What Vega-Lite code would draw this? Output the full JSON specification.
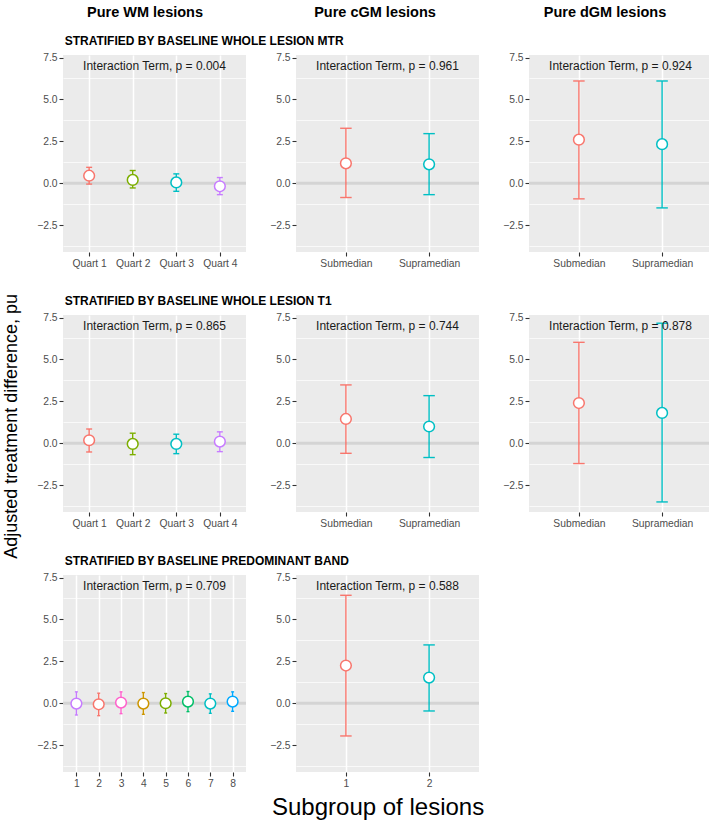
{
  "$schema": "https://vega.github.io/schema/vega-lite/v6.json",
  "background": "white",
  "padding": {"left": 2, "right": 0, "top": 5, "bottom": 5},
  "config": {
    "font": "Liberation Sans",
    "view": {"fill": "#EBEBEB", "stroke": null},
    "axis": {"domain": false, "grid": true, "gridColor": "#FFFFFF", "gridWidth": 1.5, "tickColor": "#333333", "tickSize": 4, "tickWidth": 1.1, "labelColor": "#4D4D4D", "labelFontSize": 10.3, "labelFont": "Liberation Sans", "labelPadding": 2, "labelOverlap": false},
    "axisX": {"labelAngle": 0},
    "title": {"font": "Liberation Sans", "color": "#000000"}
  },
  "datasets": {
    "est": [
      {"strat": "MTR", "lesion": "WM", "grp": "Quart 1", "est": 0.45, "lo": -0.05, "hi": 0.95},
      {"strat": "MTR", "lesion": "WM", "grp": "Quart 2", "est": 0.2, "lo": -0.28, "hi": 0.76},
      {"strat": "MTR", "lesion": "WM", "grp": "Quart 3", "est": 0.05, "lo": -0.48, "hi": 0.56},
      {"strat": "MTR", "lesion": "WM", "grp": "Quart 4", "est": -0.18, "lo": -0.68, "hi": 0.34},
      {"strat": "MTR", "lesion": "cGM", "grp": "Submedian", "est": 1.19, "lo": -0.85, "hi": 3.28},
      {"strat": "MTR", "lesion": "cGM", "grp": "Supramedian", "est": 1.13, "lo": -0.68, "hi": 2.96},
      {"strat": "MTR", "lesion": "dGM", "grp": "Submedian", "est": 2.6, "lo": -0.93, "hi": 6.1},
      {"strat": "MTR", "lesion": "dGM", "grp": "Supramedian", "est": 2.33, "lo": -1.47, "hi": 6.1},
      {"strat": "T1", "lesion": "WM", "grp": "Quart 1", "est": 0.18, "lo": -0.52, "hi": 0.85},
      {"strat": "T1", "lesion": "WM", "grp": "Quart 2", "est": -0.04, "lo": -0.68, "hi": 0.6},
      {"strat": "T1", "lesion": "WM", "grp": "Quart 3", "est": -0.04, "lo": -0.62, "hi": 0.54},
      {"strat": "T1", "lesion": "WM", "grp": "Quart 4", "est": 0.1, "lo": -0.5, "hi": 0.68},
      {"strat": "T1", "lesion": "cGM", "grp": "Submedian", "est": 1.45, "lo": -0.6, "hi": 3.48},
      {"strat": "T1", "lesion": "cGM", "grp": "Supramedian", "est": 1.0, "lo": -0.85, "hi": 2.84},
      {"strat": "T1", "lesion": "dGM", "grp": "Submedian", "est": 2.4, "lo": -1.21, "hi": 6.02},
      {"strat": "T1", "lesion": "dGM", "grp": "Supramedian", "est": 1.81, "lo": -3.5, "hi": 7.16},
      {"strat": "Band", "lesion": "WM", "grp": "1", "est": -0.02, "lo": -0.7, "hi": 0.68},
      {"strat": "Band", "lesion": "WM", "grp": "2", "est": -0.06, "lo": -0.74, "hi": 0.6},
      {"strat": "Band", "lesion": "WM", "grp": "3", "est": 0.04, "lo": -0.62, "hi": 0.68},
      {"strat": "Band", "lesion": "WM", "grp": "4", "est": -0.02, "lo": -0.66, "hi": 0.64},
      {"strat": "Band", "lesion": "WM", "grp": "5", "est": 0.0, "lo": -0.58, "hi": 0.58},
      {"strat": "Band", "lesion": "WM", "grp": "6", "est": 0.1, "lo": -0.5, "hi": 0.7},
      {"strat": "Band", "lesion": "WM", "grp": "7", "est": -0.02, "lo": -0.6, "hi": 0.56},
      {"strat": "Band", "lesion": "WM", "grp": "8", "est": 0.1, "lo": -0.48, "hi": 0.68},
      {"strat": "Band", "lesion": "cGM", "grp": "1", "est": 2.25, "lo": -1.95, "hi": 6.44},
      {"strat": "Band", "lesion": "cGM", "grp": "2", "est": 1.53, "lo": -0.46, "hi": 3.48}
    ],
    "pvals": [
      {"strat": "MTR", "lesion": "WM", "label": "Interaction Term, p = 0.004"},
      {"strat": "MTR", "lesion": "cGM", "label": "Interaction Term, p = 0.961"},
      {"strat": "MTR", "lesion": "dGM", "label": "Interaction Term, p = 0.924"},
      {"strat": "T1", "lesion": "WM", "label": "Interaction Term, p = 0.865"},
      {"strat": "T1", "lesion": "cGM", "label": "Interaction Term, p = 0.744"},
      {"strat": "T1", "lesion": "dGM", "label": "Interaction Term, p = 0.878"},
      {"strat": "Band", "lesion": "WM", "label": "Interaction Term, p = 0.709"},
      {"strat": "Band", "lesion": "cGM", "label": "Interaction Term, p = 0.588"}
    ]
  },
  "data": {"name": "est"},
  "title": {"text": "Subgroup of lesions", "orient": "bottom", "anchor": "middle", "fontSize": 24, "fontWeight": "normal", "offset": 8, "dx": 20},
  "resolve": {"scale": {"color": "independent", "x": "independent", "y": "independent"}},
  "spacing": 14,
  "vconcat": [
    {
      "width": 643, "height": 14,
      "view": {"fill": "transparent", "stroke": null},
      "data": {"values": [{"col": "Pure WM lesions"}, {"col": "Pure cGM lesions"}, {"col": "Pure dGM lesions"}]},
      "mark": {"type": "text", "fontSize": 14.5, "fontWeight": "bold", "color": "#000000"},
      "encoding": {
        "x": {"field": "col", "type": "nominal", "sort": null, "scale": {"type": "point", "padding": 0.398, "align": 0.448}, "axis": null},
        "text": {"field": "col"}
      }
    },
    {
      "title": {"text": "Adjusted treatment difference, pu", "orient": "left", "anchor": "middle", "fontSize": 18, "fontWeight": "normal", "offset": 16, "dx": -15},
      "resolve": {"scale": {"color": "independent", "x": "independent", "y": "independent"}},
      "spacing": 25,
      "vconcat": [
        {
          "title": {"text": "STRATIFIED BY BASELINE WHOLE LESION MTR", "anchor": "start", "fontSize": 12, "fontWeight": "bold", "offset": 5, "dx": 28},
          "resolve": {"scale": {"color": "independent", "x": "independent", "y": "independent"}},
          "spacing": 21,
          "hconcat": [
            {"width": 183, "height": 197, "resolve": {"axis": {"y": "independent"}}, "layer": [
              {"data": {"values": [{}]}, "mark": {"type": "rule", "color": "#D4D4D4", "strokeWidth": 3}, "encoding": {"y": {"datum": 0, "type": "quantitative", "title": null, "scale": {"domain": [-4.1, 7.65], "nice": false, "zero": false}, "axis": {"orient": "left", "values": [-3.75, -1.25, 1.25, 3.75, 6.25], "labels": false, "ticks": false, "gridWidth": 0.7}}}},
              {"transform": [{"filter": "datum.strat === 'MTR' && datum.lesion === 'WM'"}], "mark": {"type": "rule", "strokeWidth": 1.4}, "encoding": {"x": {"field": "grp", "type": "ordinal", "sort": ["Quart 1", "Quart 2", "Quart 3", "Quart 4"], "title": null, "scale": {"type": "point", "padding": 0.6}, "axis": {"grid": true, "labelAngle": 0}}, "y": {"field": "lo", "type": "quantitative", "title": null, "scale": {"domain": [-4.1, 7.65], "nice": false, "zero": false}, "axis": {"orient": "left", "values": [-2.5, 0, 2.5, 5, 7.5], "format": ".1f"}}, "y2": {"field": "hi"}, "color": {"field": "grp", "type": "nominal", "scale": {"domain": ["Quart 1", "Quart 2", "Quart 3", "Quart 4"], "range": ["#F8766D", "#7CAE00", "#00BFC4", "#C77CFF"]}, "legend": null}}},
              {"transform": [{"filter": "datum.strat === 'MTR' && datum.lesion === 'WM'"}], "mark": {"type": "tick", "orient": "horizontal", "size": 6, "thickness": 1.4, "opacity": 1}, "encoding": {"x": {"field": "grp", "type": "ordinal", "sort": ["Quart 1", "Quart 2", "Quart 3", "Quart 4"], "title": null}, "y": {"field": "lo", "type": "quantitative", "axis": null}, "color": {"field": "grp", "type": "nominal", "legend": null}}},
              {"transform": [{"filter": "datum.strat === 'MTR' && datum.lesion === 'WM'"}], "mark": {"type": "tick", "orient": "horizontal", "size": 6, "thickness": 1.4, "opacity": 1}, "encoding": {"x": {"field": "grp", "type": "ordinal", "sort": ["Quart 1", "Quart 2", "Quart 3", "Quart 4"], "title": null}, "y": {"field": "hi", "type": "quantitative", "axis": null}, "color": {"field": "grp", "type": "nominal", "legend": null}}},
              {"transform": [{"filter": "datum.strat === 'MTR' && datum.lesion === 'WM'"}], "mark": {"type": "point", "shape": "circle", "filled": false, "fill": "white", "size": 115, "strokeWidth": 1.5, "opacity": 1}, "encoding": {"x": {"field": "grp", "type": "ordinal", "sort": ["Quart 1", "Quart 2", "Quart 3", "Quart 4"], "title": null}, "y": {"field": "est", "type": "quantitative", "axis": null}, "color": {"field": "grp", "type": "nominal", "legend": null}}},
              {"data": {"name": "pvals"}, "transform": [{"filter": "datum.strat === 'MTR' && datum.lesion === 'WM'"}], "mark": {"type": "text", "fontSize": 12, "color": "#1A1A1A"}, "encoding": {"y": {"datum": 7, "type": "quantitative", "axis": null}, "text": {"field": "label"}}}
            ]},
            {"width": 183, "height": 197, "resolve": {"axis": {"y": "independent"}}, "layer": [
              {"data": {"values": [{}]}, "mark": {"type": "rule", "color": "#D4D4D4", "strokeWidth": 3}, "encoding": {"y": {"datum": 0, "type": "quantitative", "title": null, "scale": {"domain": [-4.1, 7.65], "nice": false, "zero": false}, "axis": {"orient": "left", "values": [-3.75, -1.25, 1.25, 3.75, 6.25], "labels": false, "ticks": false, "gridWidth": 0.7}}}},
              {"transform": [{"filter": "datum.strat === 'MTR' && datum.lesion === 'cGM'"}], "mark": {"type": "rule", "strokeWidth": 1.4}, "encoding": {"x": {"field": "grp", "type": "ordinal", "sort": ["Submedian", "Supramedian"], "title": null, "scale": {"type": "point", "padding": 0.6}, "axis": {"grid": true, "labelAngle": 0}}, "y": {"field": "lo", "type": "quantitative", "title": null, "scale": {"domain": [-4.1, 7.65], "nice": false, "zero": false}, "axis": {"orient": "left", "values": [-2.5, 0, 2.5, 5, 7.5], "format": ".1f"}}, "y2": {"field": "hi"}, "color": {"field": "grp", "type": "nominal", "scale": {"domain": ["Submedian", "Supramedian"], "range": ["#F8766D", "#00BFC4"]}, "legend": null}}},
              {"transform": [{"filter": "datum.strat === 'MTR' && datum.lesion === 'cGM'"}], "mark": {"type": "tick", "orient": "horizontal", "size": 11.5, "thickness": 1.4, "opacity": 1}, "encoding": {"x": {"field": "grp", "type": "ordinal", "sort": ["Submedian", "Supramedian"], "title": null}, "y": {"field": "lo", "type": "quantitative", "axis": null}, "color": {"field": "grp", "type": "nominal", "legend": null}}},
              {"transform": [{"filter": "datum.strat === 'MTR' && datum.lesion === 'cGM'"}], "mark": {"type": "tick", "orient": "horizontal", "size": 11.5, "thickness": 1.4, "opacity": 1}, "encoding": {"x": {"field": "grp", "type": "ordinal", "sort": ["Submedian", "Supramedian"], "title": null}, "y": {"field": "hi", "type": "quantitative", "axis": null}, "color": {"field": "grp", "type": "nominal", "legend": null}}},
              {"transform": [{"filter": "datum.strat === 'MTR' && datum.lesion === 'cGM'"}], "mark": {"type": "point", "shape": "circle", "filled": false, "fill": "white", "size": 115, "strokeWidth": 1.5, "opacity": 1}, "encoding": {"x": {"field": "grp", "type": "ordinal", "sort": ["Submedian", "Supramedian"], "title": null}, "y": {"field": "est", "type": "quantitative", "axis": null}, "color": {"field": "grp", "type": "nominal", "legend": null}}},
              {"data": {"name": "pvals"}, "transform": [{"filter": "datum.strat === 'MTR' && datum.lesion === 'cGM'"}], "mark": {"type": "text", "fontSize": 12, "color": "#1A1A1A"}, "encoding": {"y": {"datum": 7, "type": "quantitative", "axis": null}, "text": {"field": "label"}}}
            ]},
            {"width": 183, "height": 197, "resolve": {"axis": {"y": "independent"}}, "layer": [
              {"data": {"values": [{}]}, "mark": {"type": "rule", "color": "#D4D4D4", "strokeWidth": 3}, "encoding": {"y": {"datum": 0, "type": "quantitative", "title": null, "scale": {"domain": [-4.1, 7.65], "nice": false, "zero": false}, "axis": {"orient": "left", "values": [-3.75, -1.25, 1.25, 3.75, 6.25], "labels": false, "ticks": false, "gridWidth": 0.7}}}},
              {"transform": [{"filter": "datum.strat === 'MTR' && datum.lesion === 'dGM'"}], "mark": {"type": "rule", "strokeWidth": 1.4}, "encoding": {"x": {"field": "grp", "type": "ordinal", "sort": ["Submedian", "Supramedian"], "title": null, "scale": {"type": "point", "padding": 0.6}, "axis": {"grid": true, "labelAngle": 0}}, "y": {"field": "lo", "type": "quantitative", "title": null, "scale": {"domain": [-4.1, 7.65], "nice": false, "zero": false}, "axis": {"orient": "left", "values": [-2.5, 0, 2.5, 5, 7.5], "format": ".1f"}}, "y2": {"field": "hi"}, "color": {"field": "grp", "type": "nominal", "scale": {"domain": ["Submedian", "Supramedian"], "range": ["#F8766D", "#00BFC4"]}, "legend": null}}},
              {"transform": [{"filter": "datum.strat === 'MTR' && datum.lesion === 'dGM'"}], "mark": {"type": "tick", "orient": "horizontal", "size": 11.5, "thickness": 1.4, "opacity": 1}, "encoding": {"x": {"field": "grp", "type": "ordinal", "sort": ["Submedian", "Supramedian"], "title": null}, "y": {"field": "lo", "type": "quantitative", "axis": null}, "color": {"field": "grp", "type": "nominal", "legend": null}}},
              {"transform": [{"filter": "datum.strat === 'MTR' && datum.lesion === 'dGM'"}], "mark": {"type": "tick", "orient": "horizontal", "size": 11.5, "thickness": 1.4, "opacity": 1}, "encoding": {"x": {"field": "grp", "type": "ordinal", "sort": ["Submedian", "Supramedian"], "title": null}, "y": {"field": "hi", "type": "quantitative", "axis": null}, "color": {"field": "grp", "type": "nominal", "legend": null}}},
              {"transform": [{"filter": "datum.strat === 'MTR' && datum.lesion === 'dGM'"}], "mark": {"type": "point", "shape": "circle", "filled": false, "fill": "white", "size": 115, "strokeWidth": 1.5, "opacity": 1}, "encoding": {"x": {"field": "grp", "type": "ordinal", "sort": ["Submedian", "Supramedian"], "title": null}, "y": {"field": "est", "type": "quantitative", "axis": null}, "color": {"field": "grp", "type": "nominal", "legend": null}}},
              {"data": {"name": "pvals"}, "transform": [{"filter": "datum.strat === 'MTR' && datum.lesion === 'dGM'"}], "mark": {"type": "text", "fontSize": 12, "color": "#1A1A1A"}, "encoding": {"y": {"datum": 7, "type": "quantitative", "axis": null}, "text": {"field": "label"}}}
            ]}
          ]
        },
        {
          "title": {"text": "STRATIFIED BY BASELINE WHOLE LESION T1", "anchor": "start", "fontSize": 12, "fontWeight": "bold", "offset": 5, "dx": 28},
          "resolve": {"scale": {"color": "independent", "x": "independent", "y": "independent"}},
          "spacing": 21,
          "hconcat": [
            {"width": 183, "height": 197, "resolve": {"axis": {"y": "independent"}}, "layer": [
              {"data": {"values": [{}]}, "mark": {"type": "rule", "color": "#D4D4D4", "strokeWidth": 3}, "encoding": {"y": {"datum": 0, "type": "quantitative", "title": null, "scale": {"domain": [-4.1, 7.65], "nice": false, "zero": false}, "axis": {"orient": "left", "values": [-3.75, -1.25, 1.25, 3.75, 6.25], "labels": false, "ticks": false, "gridWidth": 0.7}}}},
              {"transform": [{"filter": "datum.strat === 'T1' && datum.lesion === 'WM'"}], "mark": {"type": "rule", "strokeWidth": 1.4}, "encoding": {"x": {"field": "grp", "type": "ordinal", "sort": ["Quart 1", "Quart 2", "Quart 3", "Quart 4"], "title": null, "scale": {"type": "point", "padding": 0.6}, "axis": {"grid": true, "labelAngle": 0}}, "y": {"field": "lo", "type": "quantitative", "title": null, "scale": {"domain": [-4.1, 7.65], "nice": false, "zero": false}, "axis": {"orient": "left", "values": [-2.5, 0, 2.5, 5, 7.5], "format": ".1f"}}, "y2": {"field": "hi"}, "color": {"field": "grp", "type": "nominal", "scale": {"domain": ["Quart 1", "Quart 2", "Quart 3", "Quart 4"], "range": ["#F8766D", "#7CAE00", "#00BFC4", "#C77CFF"]}, "legend": null}}},
              {"transform": [{"filter": "datum.strat === 'T1' && datum.lesion === 'WM'"}], "mark": {"type": "tick", "orient": "horizontal", "size": 6, "thickness": 1.4, "opacity": 1}, "encoding": {"x": {"field": "grp", "type": "ordinal", "sort": ["Quart 1", "Quart 2", "Quart 3", "Quart 4"], "title": null}, "y": {"field": "lo", "type": "quantitative", "axis": null}, "color": {"field": "grp", "type": "nominal", "legend": null}}},
              {"transform": [{"filter": "datum.strat === 'T1' && datum.lesion === 'WM'"}], "mark": {"type": "tick", "orient": "horizontal", "size": 6, "thickness": 1.4, "opacity": 1}, "encoding": {"x": {"field": "grp", "type": "ordinal", "sort": ["Quart 1", "Quart 2", "Quart 3", "Quart 4"], "title": null}, "y": {"field": "hi", "type": "quantitative", "axis": null}, "color": {"field": "grp", "type": "nominal", "legend": null}}},
              {"transform": [{"filter": "datum.strat === 'T1' && datum.lesion === 'WM'"}], "mark": {"type": "point", "shape": "circle", "filled": false, "fill": "white", "size": 115, "strokeWidth": 1.5, "opacity": 1}, "encoding": {"x": {"field": "grp", "type": "ordinal", "sort": ["Quart 1", "Quart 2", "Quart 3", "Quart 4"], "title": null}, "y": {"field": "est", "type": "quantitative", "axis": null}, "color": {"field": "grp", "type": "nominal", "legend": null}}},
              {"data": {"name": "pvals"}, "transform": [{"filter": "datum.strat === 'T1' && datum.lesion === 'WM'"}], "mark": {"type": "text", "fontSize": 12, "color": "#1A1A1A"}, "encoding": {"y": {"datum": 7, "type": "quantitative", "axis": null}, "text": {"field": "label"}}}
            ]},
            {"width": 183, "height": 197, "resolve": {"axis": {"y": "independent"}}, "layer": [
              {"data": {"values": [{}]}, "mark": {"type": "rule", "color": "#D4D4D4", "strokeWidth": 3}, "encoding": {"y": {"datum": 0, "type": "quantitative", "title": null, "scale": {"domain": [-4.1, 7.65], "nice": false, "zero": false}, "axis": {"orient": "left", "values": [-3.75, -1.25, 1.25, 3.75, 6.25], "labels": false, "ticks": false, "gridWidth": 0.7}}}},
              {"transform": [{"filter": "datum.strat === 'T1' && datum.lesion === 'cGM'"}], "mark": {"type": "rule", "strokeWidth": 1.4}, "encoding": {"x": {"field": "grp", "type": "ordinal", "sort": ["Submedian", "Supramedian"], "title": null, "scale": {"type": "point", "padding": 0.6}, "axis": {"grid": true, "labelAngle": 0}}, "y": {"field": "lo", "type": "quantitative", "title": null, "scale": {"domain": [-4.1, 7.65], "nice": false, "zero": false}, "axis": {"orient": "left", "values": [-2.5, 0, 2.5, 5, 7.5], "format": ".1f"}}, "y2": {"field": "hi"}, "color": {"field": "grp", "type": "nominal", "scale": {"domain": ["Submedian", "Supramedian"], "range": ["#F8766D", "#00BFC4"]}, "legend": null}}},
              {"transform": [{"filter": "datum.strat === 'T1' && datum.lesion === 'cGM'"}], "mark": {"type": "tick", "orient": "horizontal", "size": 11.5, "thickness": 1.4, "opacity": 1}, "encoding": {"x": {"field": "grp", "type": "ordinal", "sort": ["Submedian", "Supramedian"], "title": null}, "y": {"field": "lo", "type": "quantitative", "axis": null}, "color": {"field": "grp", "type": "nominal", "legend": null}}},
              {"transform": [{"filter": "datum.strat === 'T1' && datum.lesion === 'cGM'"}], "mark": {"type": "tick", "orient": "horizontal", "size": 11.5, "thickness": 1.4, "opacity": 1}, "encoding": {"x": {"field": "grp", "type": "ordinal", "sort": ["Submedian", "Supramedian"], "title": null}, "y": {"field": "hi", "type": "quantitative", "axis": null}, "color": {"field": "grp", "type": "nominal", "legend": null}}},
              {"transform": [{"filter": "datum.strat === 'T1' && datum.lesion === 'cGM'"}], "mark": {"type": "point", "shape": "circle", "filled": false, "fill": "white", "size": 115, "strokeWidth": 1.5, "opacity": 1}, "encoding": {"x": {"field": "grp", "type": "ordinal", "sort": ["Submedian", "Supramedian"], "title": null}, "y": {"field": "est", "type": "quantitative", "axis": null}, "color": {"field": "grp", "type": "nominal", "legend": null}}},
              {"data": {"name": "pvals"}, "transform": [{"filter": "datum.strat === 'T1' && datum.lesion === 'cGM'"}], "mark": {"type": "text", "fontSize": 12, "color": "#1A1A1A"}, "encoding": {"y": {"datum": 7, "type": "quantitative", "axis": null}, "text": {"field": "label"}}}
            ]},
            {"width": 183, "height": 197, "resolve": {"axis": {"y": "independent"}}, "layer": [
              {"data": {"values": [{}]}, "mark": {"type": "rule", "color": "#D4D4D4", "strokeWidth": 3}, "encoding": {"y": {"datum": 0, "type": "quantitative", "title": null, "scale": {"domain": [-4.1, 7.65], "nice": false, "zero": false}, "axis": {"orient": "left", "values": [-3.75, -1.25, 1.25, 3.75, 6.25], "labels": false, "ticks": false, "gridWidth": 0.7}}}},
              {"transform": [{"filter": "datum.strat === 'T1' && datum.lesion === 'dGM'"}], "mark": {"type": "rule", "strokeWidth": 1.4}, "encoding": {"x": {"field": "grp", "type": "ordinal", "sort": ["Submedian", "Supramedian"], "title": null, "scale": {"type": "point", "padding": 0.6}, "axis": {"grid": true, "labelAngle": 0}}, "y": {"field": "lo", "type": "quantitative", "title": null, "scale": {"domain": [-4.1, 7.65], "nice": false, "zero": false}, "axis": {"orient": "left", "values": [-2.5, 0, 2.5, 5, 7.5], "format": ".1f"}}, "y2": {"field": "hi"}, "color": {"field": "grp", "type": "nominal", "scale": {"domain": ["Submedian", "Supramedian"], "range": ["#F8766D", "#00BFC4"]}, "legend": null}}},
              {"transform": [{"filter": "datum.strat === 'T1' && datum.lesion === 'dGM'"}], "mark": {"type": "tick", "orient": "horizontal", "size": 11.5, "thickness": 1.4, "opacity": 1}, "encoding": {"x": {"field": "grp", "type": "ordinal", "sort": ["Submedian", "Supramedian"], "title": null}, "y": {"field": "lo", "type": "quantitative", "axis": null}, "color": {"field": "grp", "type": "nominal", "legend": null}}},
              {"transform": [{"filter": "datum.strat === 'T1' && datum.lesion === 'dGM'"}], "mark": {"type": "tick", "orient": "horizontal", "size": 11.5, "thickness": 1.4, "opacity": 1}, "encoding": {"x": {"field": "grp", "type": "ordinal", "sort": ["Submedian", "Supramedian"], "title": null}, "y": {"field": "hi", "type": "quantitative", "axis": null}, "color": {"field": "grp", "type": "nominal", "legend": null}}},
              {"transform": [{"filter": "datum.strat === 'T1' && datum.lesion === 'dGM'"}], "mark": {"type": "point", "shape": "circle", "filled": false, "fill": "white", "size": 115, "strokeWidth": 1.5, "opacity": 1}, "encoding": {"x": {"field": "grp", "type": "ordinal", "sort": ["Submedian", "Supramedian"], "title": null}, "y": {"field": "est", "type": "quantitative", "axis": null}, "color": {"field": "grp", "type": "nominal", "legend": null}}},
              {"data": {"name": "pvals"}, "transform": [{"filter": "datum.strat === 'T1' && datum.lesion === 'dGM'"}], "mark": {"type": "text", "fontSize": 12, "color": "#1A1A1A"}, "encoding": {"y": {"datum": 7, "type": "quantitative", "axis": null}, "text": {"field": "label"}}}
            ]}
          ]
        },
        {
          "title": {"text": "STRATIFIED BY BASELINE PREDOMINANT BAND", "anchor": "start", "fontSize": 12, "fontWeight": "bold", "offset": 5, "dx": 28},
          "resolve": {"scale": {"color": "independent", "x": "independent", "y": "independent"}},
          "spacing": 21,
          "hconcat": [
            {"width": 183, "height": 197, "resolve": {"axis": {"y": "independent"}}, "layer": [
              {"data": {"values": [{}]}, "mark": {"type": "rule", "color": "#D4D4D4", "strokeWidth": 3}, "encoding": {"y": {"datum": 0, "type": "quantitative", "title": null, "scale": {"domain": [-4.1, 7.65], "nice": false, "zero": false}, "axis": {"orient": "left", "values": [-3.75, -1.25, 1.25, 3.75, 6.25], "labels": false, "ticks": false, "gridWidth": 0.7}}}},
              {"transform": [{"filter": "datum.strat === 'Band' && datum.lesion === 'WM'"}], "mark": {"type": "rule", "strokeWidth": 1.4}, "encoding": {"x": {"field": "grp", "type": "ordinal", "sort": ["1", "2", "3", "4", "5", "6", "7", "8"], "title": null, "scale": {"type": "point", "padding": 0.6}, "axis": {"grid": true, "labelAngle": 0}}, "y": {"field": "lo", "type": "quantitative", "title": null, "scale": {"domain": [-4.1, 7.65], "nice": false, "zero": false}, "axis": {"orient": "left", "values": [-2.5, 0, 2.5, 5, 7.5], "format": ".1f"}}, "y2": {"field": "hi"}, "color": {"field": "grp", "type": "nominal", "scale": {"domain": ["1", "2", "3", "4", "5", "6", "7", "8"], "range": ["#C77CFF", "#F8766D", "#FF61CC", "#CD9600", "#7CAE00", "#00BE67", "#00BFC4", "#00A9FF"]}, "legend": null}}},
              {"transform": [{"filter": "datum.strat === 'Band' && datum.lesion === 'WM'"}], "mark": {"type": "tick", "orient": "horizontal", "size": 3, "thickness": 1.4, "opacity": 1}, "encoding": {"x": {"field": "grp", "type": "ordinal", "sort": ["1", "2", "3", "4", "5", "6", "7", "8"], "title": null}, "y": {"field": "lo", "type": "quantitative", "axis": null}, "color": {"field": "grp", "type": "nominal", "legend": null}}},
              {"transform": [{"filter": "datum.strat === 'Band' && datum.lesion === 'WM'"}], "mark": {"type": "tick", "orient": "horizontal", "size": 3, "thickness": 1.4, "opacity": 1}, "encoding": {"x": {"field": "grp", "type": "ordinal", "sort": ["1", "2", "3", "4", "5", "6", "7", "8"], "title": null}, "y": {"field": "hi", "type": "quantitative", "axis": null}, "color": {"field": "grp", "type": "nominal", "legend": null}}},
              {"transform": [{"filter": "datum.strat === 'Band' && datum.lesion === 'WM'"}], "mark": {"type": "point", "shape": "circle", "filled": false, "fill": "white", "size": 115, "strokeWidth": 1.5, "opacity": 1}, "encoding": {"x": {"field": "grp", "type": "ordinal", "sort": ["1", "2", "3", "4", "5", "6", "7", "8"], "title": null}, "y": {"field": "est", "type": "quantitative", "axis": null}, "color": {"field": "grp", "type": "nominal", "legend": null}}},
              {"data": {"name": "pvals"}, "transform": [{"filter": "datum.strat === 'Band' && datum.lesion === 'WM'"}], "mark": {"type": "text", "fontSize": 12, "color": "#1A1A1A"}, "encoding": {"y": {"datum": 7, "type": "quantitative", "axis": null}, "text": {"field": "label"}}}
            ]},
            {"width": 183, "height": 197, "resolve": {"axis": {"y": "independent"}}, "layer": [
              {"data": {"values": [{}]}, "mark": {"type": "rule", "color": "#D4D4D4", "strokeWidth": 3}, "encoding": {"y": {"datum": 0, "type": "quantitative", "title": null, "scale": {"domain": [-4.1, 7.65], "nice": false, "zero": false}, "axis": {"orient": "left", "values": [-3.75, -1.25, 1.25, 3.75, 6.25], "labels": false, "ticks": false, "gridWidth": 0.7}}}},
              {"transform": [{"filter": "datum.strat === 'Band' && datum.lesion === 'cGM'"}], "mark": {"type": "rule", "strokeWidth": 1.4}, "encoding": {"x": {"field": "grp", "type": "ordinal", "sort": ["1", "2"], "title": null, "scale": {"type": "point", "padding": 0.6}, "axis": {"grid": true, "labelAngle": 0}}, "y": {"field": "lo", "type": "quantitative", "title": null, "scale": {"domain": [-4.1, 7.65], "nice": false, "zero": false}, "axis": {"orient": "left", "values": [-2.5, 0, 2.5, 5, 7.5], "format": ".1f"}}, "y2": {"field": "hi"}, "color": {"field": "grp", "type": "nominal", "scale": {"domain": ["1", "2"], "range": ["#F8766D", "#00BFC4"]}, "legend": null}}},
              {"transform": [{"filter": "datum.strat === 'Band' && datum.lesion === 'cGM'"}], "mark": {"type": "tick", "orient": "horizontal", "size": 11.5, "thickness": 1.4, "opacity": 1}, "encoding": {"x": {"field": "grp", "type": "ordinal", "sort": ["1", "2"], "title": null}, "y": {"field": "lo", "type": "quantitative", "axis": null}, "color": {"field": "grp", "type": "nominal", "legend": null}}},
              {"transform": [{"filter": "datum.strat === 'Band' && datum.lesion === 'cGM'"}], "mark": {"type": "tick", "orient": "horizontal", "size": 11.5, "thickness": 1.4, "opacity": 1}, "encoding": {"x": {"field": "grp", "type": "ordinal", "sort": ["1", "2"], "title": null}, "y": {"field": "hi", "type": "quantitative", "axis": null}, "color": {"field": "grp", "type": "nominal", "legend": null}}},
              {"transform": [{"filter": "datum.strat === 'Band' && datum.lesion === 'cGM'"}], "mark": {"type": "point", "shape": "circle", "filled": false, "fill": "white", "size": 115, "strokeWidth": 1.5, "opacity": 1}, "encoding": {"x": {"field": "grp", "type": "ordinal", "sort": ["1", "2"], "title": null}, "y": {"field": "est", "type": "quantitative", "axis": null}, "color": {"field": "grp", "type": "nominal", "legend": null}}},
              {"data": {"name": "pvals"}, "transform": [{"filter": "datum.strat === 'Band' && datum.lesion === 'cGM'"}], "mark": {"type": "text", "fontSize": 12, "color": "#1A1A1A"}, "encoding": {"y": {"datum": 7, "type": "quantitative", "axis": null}, "text": {"field": "label"}}}
            ]}
          ]
        }
      ]
    }
  ]
}
